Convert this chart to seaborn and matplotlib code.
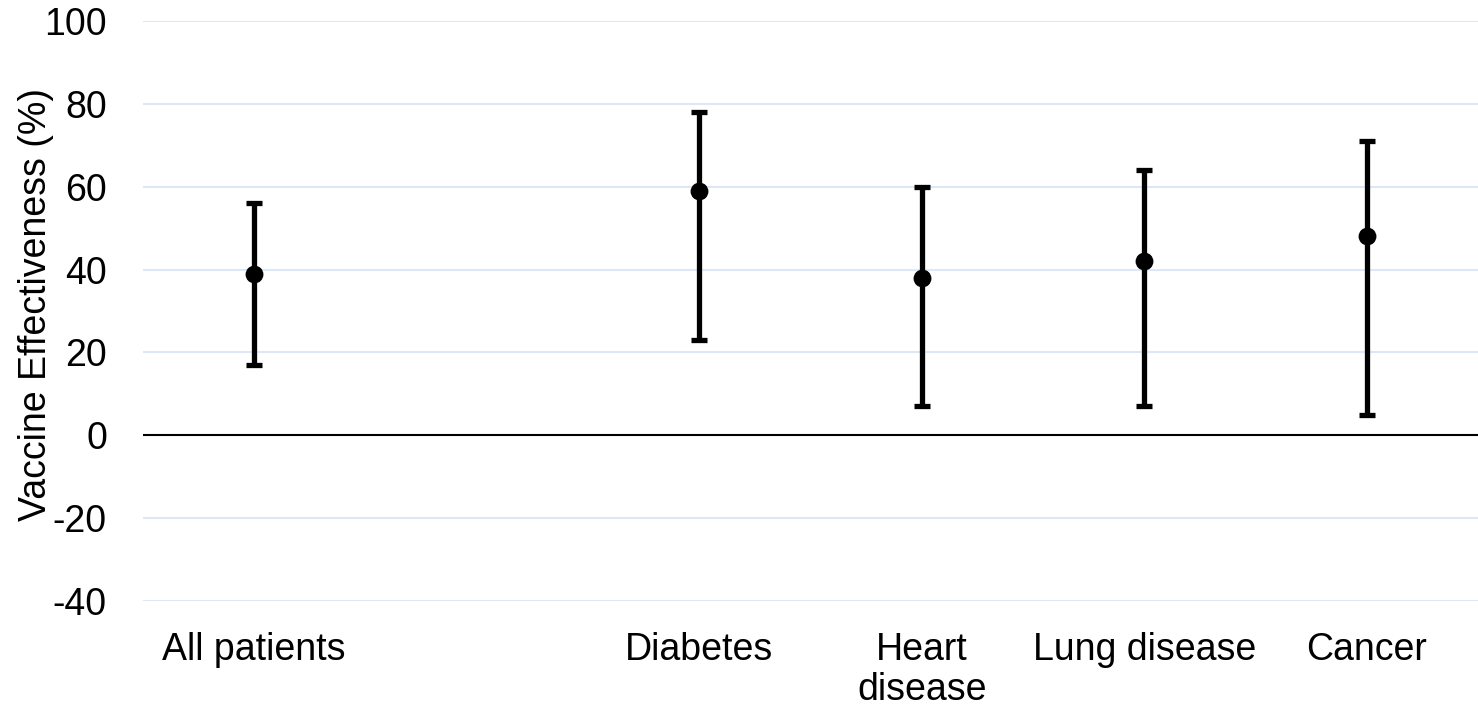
import numpy as np
import pandas as pd
import matplotlib
matplotlib.use("Agg")
import matplotlib.pyplot as plt
import seaborn as sns

categories = ["All patients", "", "Diabetes", "Heart\ndisease", "Lung disease", "Cancer"]
estimate = [39, np.nan, 59, 38, 42, 48]
lower = [17, np.nan, 23, 7, 7, 5]
upper = [56, np.nan, 78, 60, 64, 71]
yticks = [-40, -20, 0, 20, 40, 60, 80, 100]

sns.set_theme(style="white")
plt.rcParams["font.family"] = ["Liberation Sans", "DejaVu Sans"]
plt.rcParams["text.color"] = "black"
plt.rcParams["xtick.color"] = "black"
plt.rcParams["ytick.color"] = "black"
plt.rcParams["axes.labelcolor"] = "black"

df = pd.DataFrame({"pos": np.arange(len(categories)), "category": categories,
                   "estimate": estimate, "lower": lower, "upper": upper})

fig = plt.figure(figsize=(14.78, 7.07), dpi=100)
ax = fig.add_axes([143 / 1478, 1 - 601 / 707, 1 - 143 / 1478, (601 - 21) / 707])

for y in yticks:
    if y == 0:
        ax.axhline(0, color="black", lw=1.5, zorder=1)
    else:
        ax.axhline(y, color="#dce8f7", lw=1.5, zorder=0)

d = df.dropna()
ax.errorbar(d["pos"], d["estimate"],
            yerr=[d["estimate"] - d["lower"], d["upper"] - d["estimate"]],
            fmt="none", ecolor="black", elinewidth=3.8, capsize=5.5, capthick=3.8, zorder=2)
sns.scatterplot(data=d, x="pos", y="estimate", color="black", s=165, edgecolor="black",
                linewidth=0, ax=ax, zorder=3, legend=False)

ax.set_xlim(-0.5, len(categories) - 0.5)
ax.set_ylim(-40, 100)
ax.set_xticks(np.arange(len(categories)))
ax.set_xticklabels(categories, fontsize=27, linespacing=1.15, va="top")
ax.set_yticks(yticks)
ax.set_yticklabels([str(v) for v in yticks], fontsize=27)
ax.tick_params(axis="both", length=0)
ax.tick_params(axis="y", pad=26)
ax.tick_params(axis="x", pad=22)
ax.set_xlabel("")
ax.set_ylabel("Vaccine Effectiveness (%)", fontsize=27)
ax.yaxis.set_label_coords((54 - 143) / 1335, 0.512)
for s in ax.spines.values():
    s.set_visible(False)
ax.set_facecolor("white")

fig.savefig("out.png", dpi=100, facecolor="white")
